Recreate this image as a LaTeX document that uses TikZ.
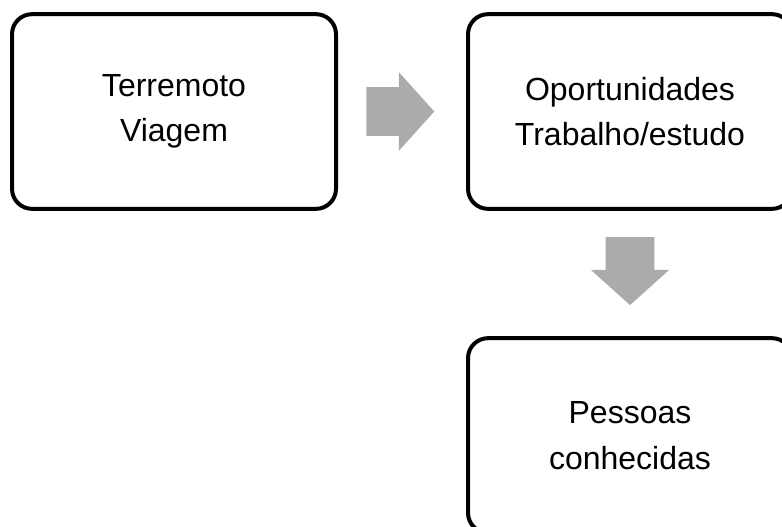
\documentclass[tikz,border=0pt]{standalone}
\usepackage{fontspec}
\setmainfont{Liberation Sans}
\usetikzlibrary{shapes.arrows,calc,positioning}
\tikzstyle{stage} = [rectangle, rounded corners=15pt, minimum width=243pt, minimum height=146pt, text centered, align=center, draw=black, line width=3pt, font=\fontsize{24}{34}\selectfont]
\tikzstyle{blockarrow} = [single arrow, draw=none, fill=black!33, inner xsep=0pt, inner ysep=18pt, single arrow tip angle=96, single arrow head extend=11.25pt, minimum height=51pt, anchor=tail]

\begin{document}
\begin{tikzpicture}[x=0.75pt,y=-0.75pt]
\useasboundingbox (0,0) rectangle (782,526);

\node (cause) [stage] at (174,111.5) {Terremoto\\Viagem};
\node (chance) [stage, right=96pt of cause] {Oportunidades\\Trabalho/estudo};
\node (people) [stage, below=94pt of chance] {Pessoas\\conhecidas};
%
\node (go1) [blockarrow, right=21pt of cause.east, anchor=tail] {};
\node (go2) [blockarrow, rotate=-90, below=19.5pt of chance.south, anchor=tail] {};

\end{tikzpicture}
\end{document}
